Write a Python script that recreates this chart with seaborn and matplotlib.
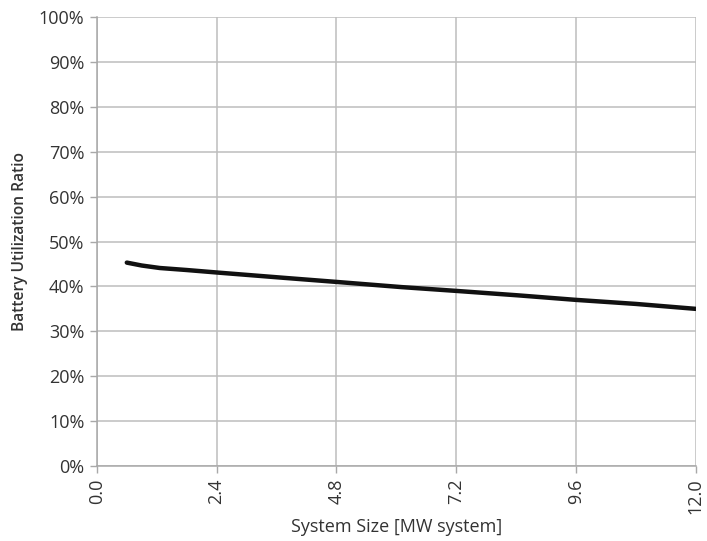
import seaborn as sns
import pandas as pd
import numpy as np
import matplotlib.pyplot as plt
import matplotlib.ticker as ticker

# values
size_mw = [0.6, 0.9, 1.26, 1.8, 2.4, 3.76, 4.8, 6.1, 7.2, 8.45, 9.6, 10.8, 12.0]
util_ratio = [0.453, 0.4465, 0.441, 0.4365, 0.431, 0.419, 0.410, 0.3985, 0.390, 0.380, 0.370, 0.361, 0.350]
x_ticks = [0.0, 2.4, 4.8, 7.2, 9.6, 12.0]
y_ticks = [i / 10 for i in range(11)]

df = pd.DataFrame({"size": size_mw, "ratio": util_ratio})

sns.set_theme(style="white")
plt.rcParams["font.family"] = ["Open Sans", "DejaVu Sans"]

fig = plt.figure(figsize=(7.07, 5.41), dpi=100)
ax = fig.add_axes([0.137, 0.1386, 0.847, 0.83])

sns.lineplot(data=df, x="size", y="ratio", ax=ax, color="#111111", linewidth=3.2)

ax.set_xlim(0, 12)
ax.set_ylim(0, 1)
ax.set_xticks(x_ticks)
ax.set_xticklabels([f"{v:.1f}" for v in x_ticks], rotation=90)
ax.set_yticks(y_ticks)
ax.yaxis.set_major_formatter(ticker.PercentFormatter(1.0, decimals=0))
ax.tick_params(axis="both", labelsize=13, labelcolor="#333333", length=5,
               width=1, color="#a8a8a8", direction="out", bottom=True, left=True, pad=4)
ax.grid(True, color="#bdbdbd", linewidth=1.1)
for s in ["top", "right"]:
    ax.spines[s].set_visible(False)
for s in ["left", "bottom"]:
    ax.spines[s].set_color("#a8a8a8")
    ax.spines[s].set_linewidth(1.1)

ax.set_xlabel("System Size [MW system]", fontsize=13, color="#333333", labelpad=3)
ax.set_ylabel("Battery Utilization Ratio", fontsize=11.2, color="#333333",
              fontweight="semibold", labelpad=8)

plt.savefig("out.png", dpi=100)
